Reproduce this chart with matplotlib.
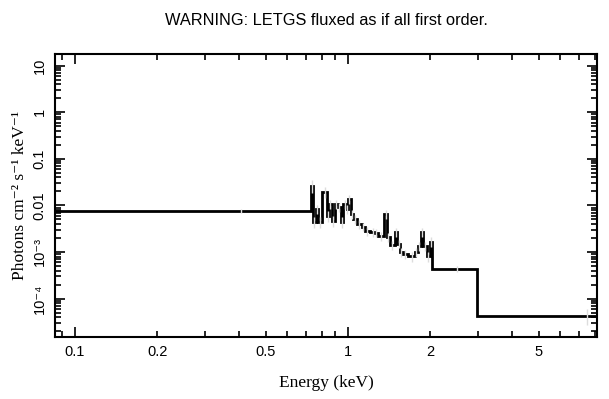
import numpy as np
import matplotlib.pyplot as plt
from matplotlib.ticker import FixedLocator, FuncFormatter, NullFormatter

#%% data (bin edges in keV, flux per bin)
bin_edges = [0.08, 0.732, 0.744, 0.764, 0.776, 0.803, 0.838, 0.852, 0.874, 0.896,
             0.919, 0.943, 0.959, 0.992, 1.0, 1.026, 1.043, 1.079, 1.125, 1.154,
             1.204, 1.256, 1.288, 1.355, 1.390, 1.425, 1.486, 1.512, 1.551, 1.590,
             1.659, 1.760, 1.805, 1.851, 1.883, 1.946, 1.997, 2.031, 2.969, 12.0]
flux = [0.0076, 0.0262, 0.00443, 0.0084, 0.00443, 0.0195, 0.0060, 0.0108, 0.00465,
        0.0108, 0.0093, 0.00443, 0.0108, 0.0084, 0.0138, 0.0066, 0.0051, 0.0040,
        0.00346, 0.00284, 0.0027, 0.00257, 0.00221, 0.0066, 0.00211, 0.00142,
        0.0027, 0.00149, 0.00100, 0.00091, 0.00082, 0.00100, 0.00135, 0.0027,
        0.00135, 0.00082, 0.00165, 0.000434, 4.25e-5]
flux_err = [0.0006, 0.008, 0.0012, 0.002, 0.0012, 0.005, 0.0015, 0.0025, 0.0012,
            0.0025, 0.002, 0.0011, 0.0025, 0.002, 0.003, 0.0015, 0.0012, 0.0009,
            0.0007, 0.0006, 0.0006, 0.0005, 0.0005, 0.0015, 0.0005, 0.0003,
            0.0006, 0.0003, 0.0002, 0.0002, 0.0002, 0.0002, 0.0003, 0.0006,
            0.0003, 0.0002, 0.0004, 0.00006, 1.6e-5]

xticks_lab = [0.1, 0.2, 0.5, 1, 2, 5]
yticks = [10, 1, 0.1, 0.01, 1e-3, 1e-4]
ytick_labels = ['10', '1', '0.1', '0.01', '10\u207b\u00b3', '10\u207b\u2074']

sans = ['Liberation Sans', 'DejaVu Sans']
serif = ['Liberation Serif', 'DejaVu Serif']

#%% plotting
fig = plt.figure(figsize=(6.09, 3.99), dpi=100)
ax = fig.add_axes([55/609, 62/399, 542/609, 283/399])

edges = np.array(bin_edges)
centers = 0.5*(edges[:-1] + edges[1:])
ax.errorbar(centers, flux, yerr=flux_err, fmt='none', ecolor='#dddddd', elinewidth=1)
ax.stairs(flux, edges, baseline=None, color='k', lw=2)

ax.set_xscale('log')
ax.set_yscale('log')
ax.set_xlim(0.0845, 8.17)
ax.set_ylim(1.5e-5, 17.7)

ax.xaxis.set_major_locator(FixedLocator([0.1, 1, 10]))
ax.xaxis.set_minor_locator(FixedLocator([k*10.0**e for e in (-2, -1, 0) for k in range(2, 10)]))
fmt = lambda v, p: ('%g' % v) if any(abs(v - t) < 1e-6 for t in xticks_lab) else ''
ax.xaxis.set_major_formatter(FuncFormatter(fmt))
ax.xaxis.set_minor_formatter(FuncFormatter(fmt))

ax.set_yticks(yticks)
ax.set_yticklabels(ytick_labels, rotation=90, va='center', family=sans)
ax.yaxis.set_minor_locator(FixedLocator([k*10.0**e for e in range(-5, 2) for k in range(2, 10)]))
ax.yaxis.set_minor_formatter(NullFormatter())

for lab in ax.get_xticklabels(which='both'):
    lab.set_family(sans)
ax.tick_params(which='both', direction='in', top=True, right=True, labelsize=10.5, width=1.2)
ax.tick_params(which='major', length=7, pad=6)
ax.tick_params(which='minor', length=4, pad=6)
for s in ax.spines.values():
    s.set_linewidth(1.5)

ax.set_xlabel('Energy (keV)', family=serif, fontsize=12.5, labelpad=11)
ax.set_ylabel('Photons cm\u207b\u00b2 s\u207b\u00b9 keV\u207b\u00b9', family=serif, fontsize=12.5, labelpad=3)
ax.set_title('WARNING: LETGS fluxed as if all first order.', family=sans, fontsize=11.8, pad=21)

fig.savefig('out.png', dpi=100)
